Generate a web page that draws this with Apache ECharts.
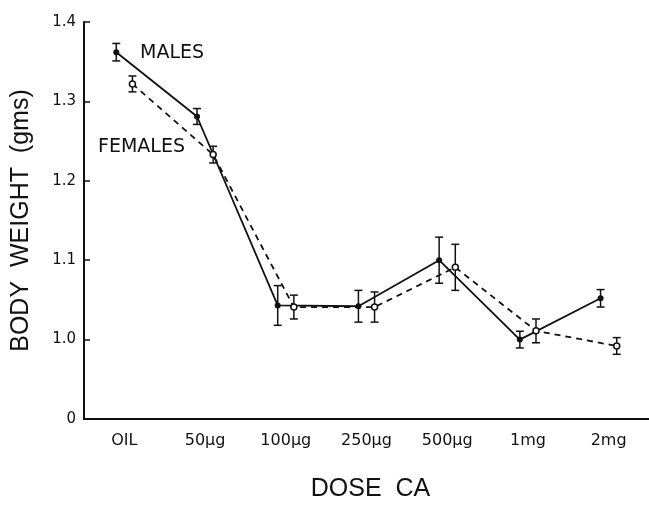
<!DOCTYPE html>
<html>
<head>
  <meta charset="utf-8">
  <title>Body weight vs dose</title>
  <script src="https://cdn.jsdelivr.net/npm/echarts@6/dist/echarts.min.js"></script>
  <style type="text/css">
    body { margin: 0; background: #fff; }
    #chart { width: 649px; height: 507px; }
  </style>
</head>
<body>
<div id="chart"></div>
<script>
  // 数据
  var doses = ['OIL', '50\u03bcg', '100\u03bcg', '250\u03bcg', '500\u03bcg', '1mg', '2mg'];
  var maleMean = [1.362, 1.281, 1.043, 1.042, 1.100, 1.000, 1.052];
  var maleErr = [0.011, 0.01, 0.025, 0.02, 0.029, 0.0105, 0.011];
  var femaleMean = [1.322, 1.233, 1.041, 1.041, 1.091, 1.011, 0.992];
  var femaleErr = [0.01, 0.0105, 0.015, 0.019, 0.029, 0.015, 0.0105];
  var yTicks = [0.9, 1.0, 1.1, 1.2, 1.3, 1.4];   // 0.9 画成断轴的 "0"

  var font = 'DejaVu Sans';
  var ink = '#111';

  function points(mean, off) {
    return mean.map(function (v, i) { return [i + off, v]; });
  }
  function bars(mean, err, off) {
    return mean.map(function (v, i) { return [i + off, v - err[i], v + err[i]]; });
  }

  // 误差棒
  function renderErr(params, api) {
    var lo = api.coord([api.value(0), api.value(1)]);
    var hi = api.coord([api.value(0), api.value(2)]);
    var w = 4;
    var st = { stroke: ink, lineWidth: 1.5 };
    return {
      type: 'group',
      children: [
        { type: 'line', shape: { x1: lo[0], y1: lo[1], x2: hi[0], y2: hi[1] }, style: st },
        { type: 'line', shape: { x1: lo[0] - w, y1: lo[1], x2: lo[0] + w, y2: lo[1] }, style: st },
        { type: 'line', shape: { x1: hi[0] - w, y1: hi[1], x2: hi[0] + w, y2: hi[1] }, style: st }
      ]
    };
  }

  var chart = echarts.init(document.getElementById('chart'));
  chart.setOption({
    backgroundColor: '#fff',
    animation: false,
    grid: { left: 84, right: -2, top: 22, bottom: 81 },
    xAxis: [{
      type: 'category',
      data: doses,
      boundaryGap: true,
      axisLine: { lineStyle: { color: ink, width: 2 } },
      axisTick: { inside: true, alignWithLabel: true, length: 6, lineStyle: { color: ink, width: 1.5 } },
      axisLabel: { color: ink, fontFamily: font, fontSize: 16, margin: 14 },
      splitLine: { show: false },
      name: 'DOSE  CA',
      nameLocation: 'middle',
      nameGap: 58,
      nameTextStyle: { color: ink, fontFamily: 'Liberation Sans', fontSize: 25, padding: [0, 0, 0, 8] }
    }, {
      type: 'value',
      min: -0.5,
      max: 6.5,
      show: false
    }],
    yAxis: {
      type: 'value',
      min: yTicks[0],
      max: yTicks[yTicks.length - 1],
      interval: 0.1,
      axisLine: { show: true, onZero: false, lineStyle: { color: ink, width: 2 } },
      axisTick: { show: true, inside: true, length: 6, lineStyle: { color: ink, width: 1.5 } },
      axisLabel: {
        color: ink, fontFamily: font, fontSize: 15, margin: 8,
        formatter: function (v) { return v < 0.95 ? '0' : v.toFixed(1); }
      },
      splitLine: { show: false },
      name: 'BODY  WEIGHT  (gms)',
      nameLocation: 'middle',
      nameGap: 50,
      nameTextStyle: { color: ink, fontFamily: 'Liberation Sans', fontSize: 25 }
    },
    series: [{
      name: 'MALES',
      type: 'line',
      xAxisIndex: 1,
      data: points(maleMean, -0.1),
      symbol: 'circle',
      symbolSize: 6,
      itemStyle: { color: ink },
      lineStyle: { color: ink, width: 1.8, type: 'solid' },
      z: 3
    }, {
      name: 'FEMALES',
      type: 'line',
      xAxisIndex: 1,
      data: points(femaleMean, 0.1),
      symbol: 'circle',
      symbolSize: 6,
      itemStyle: { color: '#fff', borderColor: ink, borderWidth: 1.5 },
      lineStyle: { color: ink, width: 1.8, type: [6, 5] },
      z: 3
    }, {
      type: 'custom',
      xAxisIndex: 1,
      renderItem: renderErr,
      data: bars(maleMean, maleErr, -0.1),
      encode: { x: 0, y: [1, 2] },
      z: 2
    }, {
      type: 'custom',
      xAxisIndex: 1,
      renderItem: renderErr,
      data: bars(femaleMean, femaleErr, 0.1),
      encode: { x: 0, y: [1, 2] },
      z: 2
    }],
    graphic: [{
      type: 'text', left: 140, top: 44,
      style: { text: 'MALES', fill: ink, font: '19px "DejaVu Sans"' }
    }, {
      type: 'text', left: 98, top: 138,
      style: { text: 'FEMALES', fill: ink, font: '19px "DejaVu Sans"' }
    }]
  });
</script>
</body>
</html>
